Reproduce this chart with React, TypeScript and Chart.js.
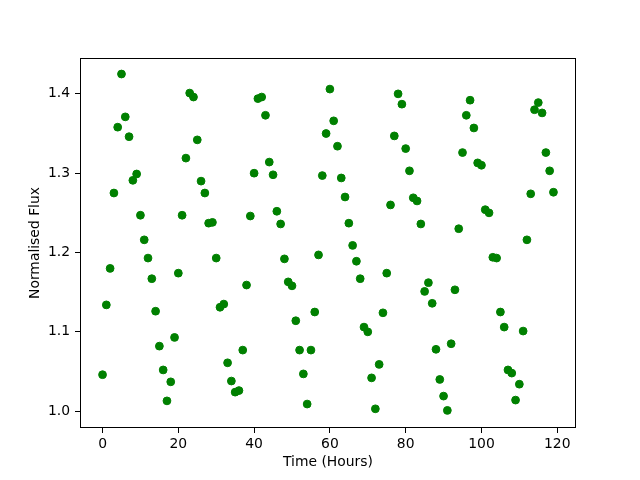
import { useEffect, useRef } from "react";
import { Chart, registerables } from "chart.js";

Chart.register(...registerables);

const hours = [
  0, 1, 2, 3, 4, 5, 6, 7, 8, 9, 10, 11, 12, 13, 14, 15, 16, 17, 18, 19,
  20, 21, 22, 23, 24, 25, 26, 27, 28, 29, 30, 31, 32, 33, 34, 35, 36, 37, 38, 39,
  40, 41, 42, 43, 44, 45, 46, 47, 48, 49, 50, 51, 52, 53, 54, 55, 56, 57, 58, 59,
  60, 61, 62, 63, 64, 65, 66, 67, 68, 69, 70, 71, 72, 73, 74, 75, 76, 77, 78, 79,
  80, 81, 82, 83, 84, 85, 86, 87, 88, 89, 90, 91, 92, 93, 94, 95, 96, 97, 98, 99,
  100, 101, 102, 103, 104, 105, 106, 107, 108, 109, 110, 111, 112, 113, 114, 115, 116, 117, 118, 119,
];

const flux = [
  1.046, 1.134, 1.180, 1.275, 1.358, 1.425, 1.371, 1.346, 1.291, 1.299,
  1.247, 1.216, 1.193, 1.167, 1.126, 1.082, 1.052, 1.013, 1.037, 1.093,
  1.174, 1.247, 1.319, 1.401, 1.396, 1.342, 1.290, 1.275, 1.237, 1.238,
  1.193, 1.131, 1.135, 1.061, 1.038, 1.024, 1.026, 1.077, 1.159, 1.246,
  1.300, 1.394, 1.396, 1.373, 1.314, 1.298, 1.252, 1.236, 1.192, 1.163,
  1.158, 1.114, 1.077, 1.047, 1.009, 1.077, 1.125, 1.197, 1.297, 1.350,
  1.406, 1.366, 1.334, 1.294, 1.270, 1.237, 1.209, 1.189, 1.167, 1.106,
  1.100, 1.042, 1.003, 1.059, 1.124, 1.174, 1.260, 1.347, 1.400, 1.387,
  1.331, 1.303, 1.269, 1.265, 1.236, 1.151, 1.162, 1.136, 1.078, 1.040,
  1.019, 1.001, 1.085, 1.153, 1.230, 1.326, 1.373, 1.392, 1.357, 1.313,
  1.310, 1.254, 1.250, 1.194, 1.193, 1.125, 1.106, 1.052, 1.048, 1.014,
  1.034, 1.101, 1.216, 1.274, 1.380, 1.389, 1.376, 1.326, 1.303, 1.276,
];

const xTicks = [0, 20, 40, 60, 80, 100, 120];
const yTicks = [1.0, 1.1, 1.2, 1.3, 1.4];

const xTitle = "Time (Hours)";
const yTitle = "Normalised Flux";

const FONT = "'DejaVu Sans', sans-serif";

const framePlugin = {
  id: "frame",
  afterDatasetsDraw(chart: any) {
    const { ctx, chartArea } = chart;
    ctx.save();
    ctx.strokeStyle = "#000";
    ctx.lineWidth = 1;
    const l = Math.round(chartArea.left) + 0.5;
    const t = Math.round(chartArea.top) + 0.5;
    const r = Math.round(chartArea.right) - 0.5;
    const b = Math.round(chartArea.bottom) - 0.5;
    ctx.strokeRect(l, t, r - l, b - t);
    ctx.restore();
  },
};

export default function App() {
  const ref = useRef<HTMLCanvasElement | null>(null);

  useEffect(() => {
    document.body.style.margin = "0";
    const canvas = ref.current;
    if (!canvas) return;
    const chart = new Chart(canvas, {
      type: "scatter",
      data: {
        datasets: [
          {
            data: hours.map((h, i) => ({ x: h, y: flux[i] })),
            backgroundColor: "#008000",
            borderColor: "#008000",
            borderWidth: 1,
            pointRadius: 3.9,
            pointHoverRadius: 3.9,
          },
        ],
      },
      options: {
        responsive: false,
        animation: false,
        devicePixelRatio: 1,
        layout: { padding: { top: 58, right: 64, left: 0, bottom: 0 } },
        plugins: {
          legend: { display: false },
          tooltip: { enabled: false },
        },
        scales: {
          x: {
            type: "linear",
            min: -5.95,
            max: 124.95,
            afterBuildTicks: (s: any) => {
              s.ticks = xTicks.map((v) => ({ value: v }));
            },
            afterFit: (s: any) => {
              s.height = 52;
            },
            border: { display: false },
            grid: {
              drawOnChartArea: false,
              drawTicks: true,
              tickLength: 5,
              color: "#000",
              lineWidth: 1,
            },
            ticks: {
              color: "#000",
              padding: 3,
              font: { family: FONT, size: 13.9 },
              maxRotation: 0,
              callback: (v: any) => String(v),
            },
            title: {
              display: true,
              text: xTitle,
              color: "#000",
              font: { family: FONT, size: 13.9 },
              padding: { top: 4, bottom: 9 },
            },
          },
          y: {
            type: "linear",
            min: 0.9788,
            max: 1.4452,
            afterBuildTicks: (s: any) => {
              s.ticks = yTicks.map((v) => ({ value: v }));
            },
            afterFit: (s: any) => {
              s.width = 80;
            },
            border: { display: false },
            grid: {
              drawOnChartArea: false,
              drawTicks: true,
              tickLength: 5,
              color: "#000",
              lineWidth: 1,
            },
            ticks: {
              color: "#000",
              padding: 5,
              font: { family: FONT, size: 13.9 },
              callback: (v: any) => Number(v).toFixed(1),
            },
            title: {
              display: true,
              text: yTitle,
              color: "#000",
              font: { family: FONT, size: 13.9 },
              padding: { top: 27, bottom: 4 },
            },
          },
        },
      },
      plugins: [framePlugin],
    } as any);
    return () => chart.destroy();
  }, []);

  return (
    <div style={{ position: "absolute", left: 0, top: 0, width: 640, height: 480, background: "#fff" }}>
      <canvas ref={ref} width={640} height={480} style={{ width: 640, height: 480, display: "block" }} />
    </div>
  );
}
